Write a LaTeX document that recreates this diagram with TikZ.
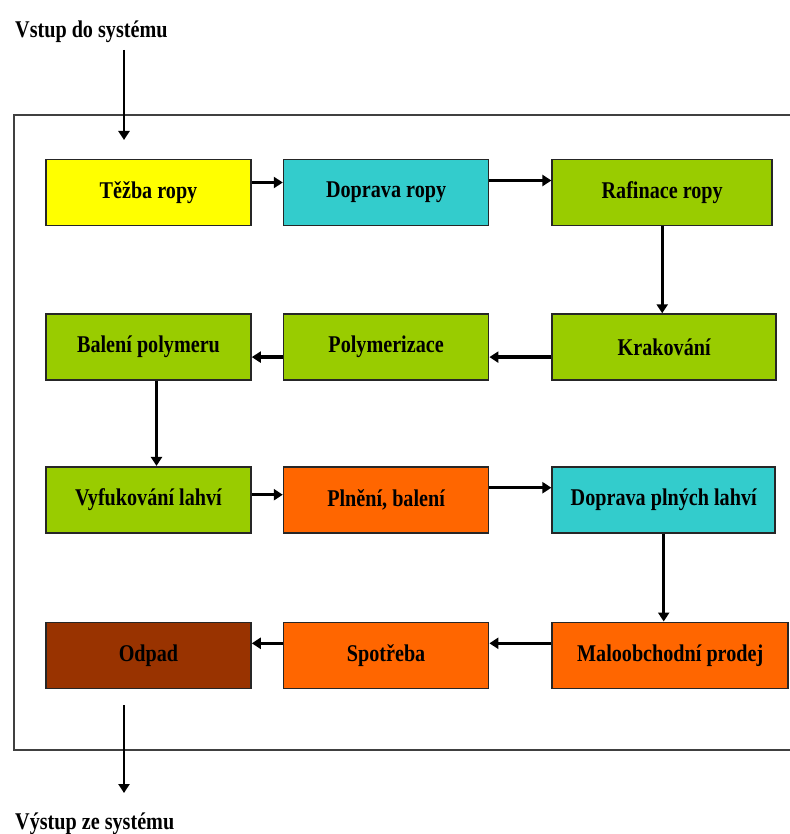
\documentclass[tikz,border=0pt]{standalone}
\usepackage{fontspec}
\setmainfont{Liberation Serif}[FakeStretch=0.84]
\usepackage{tikz}
\usetikzlibrary{arrows.meta,positioning}
\definecolor{zluta}{RGB}{255,255,0}
\definecolor{tyrkys}{RGB}{51,204,204}
\definecolor{zelena}{RGB}{153,204,0}
\definecolor{oranz}{RGB}{255,102,0}
\definecolor{hneda}{RGB}{153,51,0}

\begin{document}
\begin{tikzpicture}[
    x=1pt, y=1pt,
    node distance = 87pt and 31pt,
    box/.style  = {draw=black!85, line width=1.6pt, minimum width=205pt,
                   minimum height=66pt, inner sep=0pt, align=center,
                   font=\fontsize{24}{28}\selectfont\bfseries},
    arr/.style  = {-{Triangle[length=9pt,width=11pt]}, line width=3.4pt},
    lbl/.style  = {inner sep=0pt, font=\fontsize{24}{28}\selectfont\bfseries},
  ]
    \useasboundingbox (0,0) rectangle (789,-834);
    \draw[line width=1.6pt, black!75] (14,-115) rectangle (800,-750);

    \node[lbl, anchor=base west] (vstup) at (15,-38) {Vstup do systému};
    \coordinate (vin1) at (124,-50);
    \coordinate (vin2) at (124,-140);

    \node[box, fill=zluta]   (tez) at (148.5,-192.5) {Těžba ropy};
    \node[box, fill=tyrkys, right=of tez] (dop) {Doprava ropy};
    \node[box, fill=zelena, right=62pt of dop, minimum width=220pt] (raf) {Rafinace ropy};

    \node[box, fill=zelena, below=of tez] (bal) {Balení polymeru};
    \node[box, fill=zelena, right=of bal] (pol) {Polymerizace};
    \node[box, fill=zelena, right=62pt of pol, minimum width=224pt] (kra) {Krakování};

    \node[box, fill=zelena, below=85pt of bal] (vyf) {Vyfukování lahví};
    \node[box, fill=oranz, right=of vyf] (pln) {Plnění, balení};
    \node[box, fill=tyrkys, right=62pt of pln, minimum width=223pt] (dpl) {Doprava plných lahví};

    \node[box, fill=hneda, below=88pt of vyf] (odp) {Odpad};
    \node[box, fill=oranz, right=of odp] (spo) {Spotřeba};
    \node[box, fill=oranz, right=62pt of spo, minimum width=236pt] (mal) {Maloobchodní prodej};

    \coordinate (vout1) at (124,-705);
    \coordinate (vout2) at (124,-793);
    \node[lbl, anchor=base west] (vystup) at (15,-829) {Výstup ze systému};

    \draw[arr, line width=2.6pt] (vin1) -- (vin2);
    \draw[arr] ([yshift=10pt]tez.east) -- ([yshift=10pt]dop.west);
    \draw[arr] ([yshift=12pt]dop.east) -- ([yshift=12pt]raf.west);
    \draw[arr, line width=2.8pt] (raf.south) -- (raf.south |- kra.north);
    \draw[arr] ([yshift=-10pt]kra.west) -- ([yshift=-10pt]pol.east);
    \draw[arr] ([yshift=-10pt]pol.west) -- ([yshift=-10pt]bal.east);
    \draw[arr, line width=2.8pt] ([xshift=8pt]bal.south) -- ([xshift=8pt]vyf.north);
    \draw[arr] ([yshift=5pt]vyf.east) -- ([yshift=5pt]pln.west);
    \draw[arr] ([yshift=12pt]pln.east) -- ([yshift=12pt]dpl.west);
    \draw[arr, line width=2.8pt] (dpl.south) -- (dpl.south |- mal.north);
    \draw[arr] ([yshift=12pt]mal.west) -- ([yshift=12pt]spo.east);
    \draw[arr] ([yshift=12pt]spo.west) -- ([yshift=12pt]odp.east);
    \draw[arr, line width=2.6pt] (vout1) -- (vout2);
\end{tikzpicture}
\end{document}
